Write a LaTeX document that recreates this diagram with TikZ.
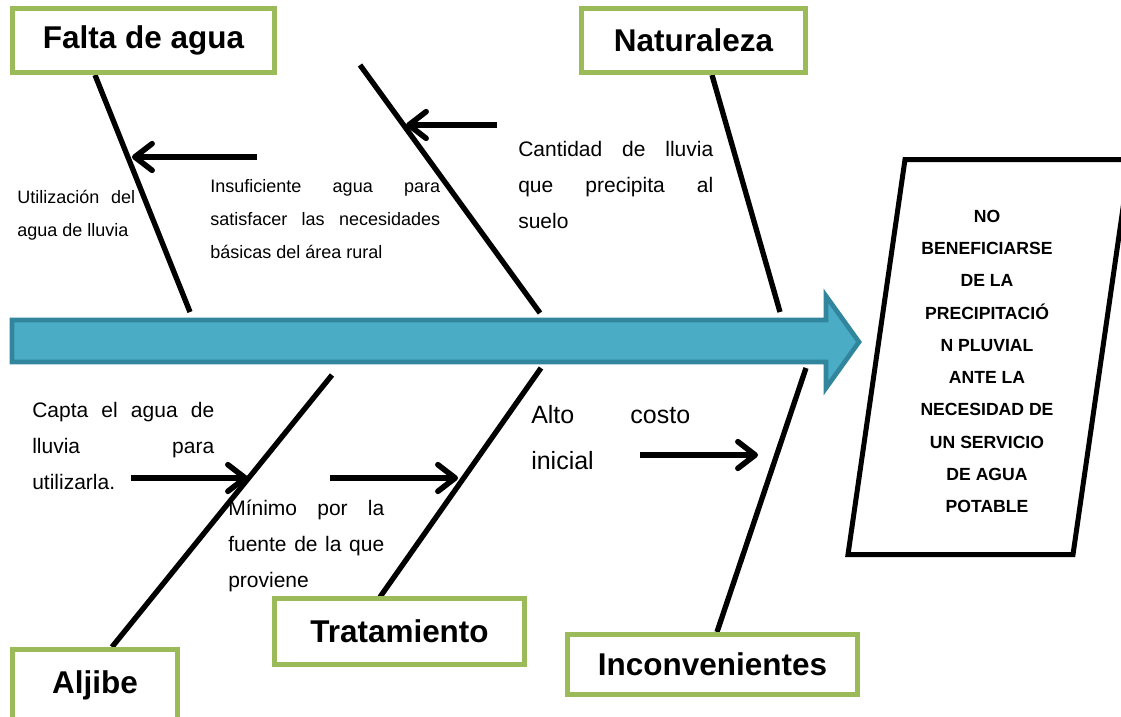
\documentclass[tikz,border=0pt]{standalone}
\usepackage{fontspec}
\setmainfont{Liberation Sans}
\usetikzlibrary{arrows.meta}
\definecolor{boxgreen}{HTML}{9BBB59}
\definecolor{spinefill}{HTML}{4BACC6}
\definecolor{spinedraw}{HTML}{31859C}
\begin{document}
\begin{tikzpicture}[x=0.75pt,y=-0.75pt,
  catbox/.style={draw=boxgreen, line width=3.75pt, fill=white, inner sep=0pt, outer sep=0pt,
    font=\bfseries\fontsize{23.6pt}{28pt}\selectfont},
  bone/.style={line width=4pt},
  cause/.style={line width=4.2pt, -{Straight Barb[length=13pt,width=20pt,round]}},
  note/.style={anchor=west, inner sep=0pt, align=left},
  smallnote/.style={note, font=\fontsize{13.5pt}{24.5pt}\selectfont},
  midnote/.style={note, font=\fontsize{15.75pt}{27.2pt}\selectfont},
  bignote/.style={note, font=\fontsize{18.75pt}{34.5pt}\selectfont}]
\useasboundingbox (0,0) rectangle (1121,717);
\clip (0,0) rectangle (1121,717);

% spine arrow
\path[fill=spinefill, draw=spinedraw, line width=3.5pt, miter limit=10]
  (12,320) -- (826,320) -- (826,296) -- (859,342) -- (826,388) -- (826,362) -- (12,362) -- cycle;

% bone end points
\coordinate (b1t) at (95,75);   \coordinate (b1s) at (190,312);
\coordinate (b2t) at (360,65);  \coordinate (b2s) at (540,313);
\coordinate (b3t) at (712,75);  \coordinate (b3s) at (780,312);
\coordinate (b4s) at (332,375); \coordinate (b4b) at (112,647);
\coordinate (b5s) at (541,368); \coordinate (b5b) at (380,597);
\coordinate (b6s) at (806,368); \coordinate (b6b) at (717,632);

\draw[bone] (b1t) -- (b1s);
\draw[bone] (b2t) -- (b2s);
\draw[bone] (b3t) -- (b3s);
\draw[bone] (b4s) -- (b4b);
\draw[bone] (b5s) -- (b5b);
\draw[bone] (b6s) -- (b6b);

% category boxes
\node[catbox, minimum width=196.5pt, minimum height=48pt] (falta) at (143.5,40.5) {Falta de agua};
\node[catbox, minimum width=168pt, minimum height=48pt] (natur) at (693.5,40.5) {Naturaleza};
\node[catbox, minimum width=123.75pt, minimum height=54pt] (aljibe) at (95,685.5) {Aljibe};
\node[catbox, minimum width=187.5pt, minimum height=49.5pt] (trat) at (399.5,631.5) {Tratamiento};
\node[catbox, minimum width=217.5pt, minimum height=45pt] (incon) at (712.5,664.5) {Inconvenientes};

% effect box
\coordinate (e1) at (905,159.5);
\coordinate (e2) at (848,554.5);
\coordinate (e3) at (1073,554.5);
\coordinate (e4) at (1130,159.5);
\draw[line width=3.75pt, miter limit=10] (e1) -- (e2) -- (e3) -- (e4) -- cycle;
\node[align=center, inner sep=0pt, font=\bfseries\fontsize{13.2pt}{24.2pt}\selectfont] (effect) at (987,361.5)
  {NO\\BENEFICIARSE\\DE LA\\PRECIPITACIÓ\\N PLUVIAL\\ANTE LA\\NECESIDAD DE\\UN SERVICIO\\DE AGUA\\POTABLE};

% cause arrows
\coordinate (a1t) at (257,157); \coordinate (a1h) at (132,157);
\coordinate (a2t) at (497,125); \coordinate (a2h) at (406,125);
\coordinate (a3t) at (131,478); \coordinate (a3h) at (248,478);
\coordinate (a4t) at (330,478); \coordinate (a4h) at (458,478);
\coordinate (a5t) at (640,455); \coordinate (a5h) at (758,455);
\draw[cause] (a1t) -- (a1h);
\draw[cause] (a2t) -- (a2h);
\draw[cause] (a3t) -- (a3h);
\draw[cause] (a4t) -- (a4h);
\draw[cause] (a5t) -- (a5h);

% notes
\node[smallnote] (n1) at (17,215.5)
  {\makebox[88.5pt][s]{Utilización del}\\agua de lluvia};
\node[smallnote] (n2) at (210,219)
  {\makebox[172.5pt][s]{Insuficiente agua para}\\\makebox[172.5pt][s]{satisfacer las necesidades}\\básicas del área rural};
\node[midnote] (n3) at (518,185)
  {\makebox[146.25pt][s]{Cantidad de lluvia}\\\makebox[146.25pt][s]{que precipita al}\\suelo};
\node[midnote] (n4) at (32,446)
  {\makebox[136.5pt][s]{Capta el agua de}\\\makebox[136.5pt][s]{lluvia para}\\utilizarla.};
\node[midnote] (n5) at (228,546)
  {\makebox[117pt][s]{Mínimo por la}\\\makebox[117pt][s]{fuente de la que}\\proviene};
\node[bignote] (n6) at (531,438)
  {\makebox[119.25pt][s]{Alto costo}\\inicial};
\end{tikzpicture}
\end{document}
